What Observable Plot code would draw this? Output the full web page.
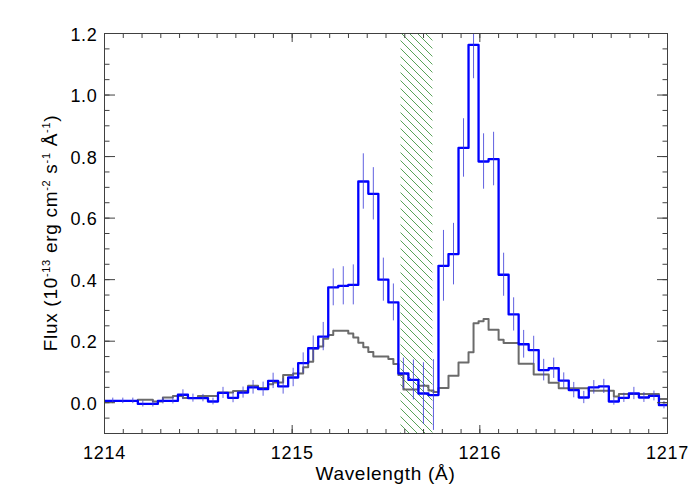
<!DOCTYPE html>
<html>
<head>
<meta charset="utf-8">
<script src="https://cdn.jsdelivr.net/npm/d3@7"></script>
<script src="https://cdn.jsdelivr.net/npm/@observablehq/plot@0.6"></script>
<style>
  body { margin: 0; background: #fff; }
</style>
</head>
<body>
<div id="chart"></div>
<script>
// ---- data ----
const binStart = 1213.964;   // left edge of first observed bin (Å)
const binWidth = 0.0534;     // observed bin width (Å)

// observed flux per bin (1e-13 erg cm^-2 s^-1 Å^-1)
const fluxObs = [
  0.006, 0.006, 0.006, 0.006, -0.004, -0.004, 0.006, 0.006, 0.026, 0.015,
  0.015, 0.004, 0.032, 0.016, 0.033, 0.050, 0.044, 0.071, 0.053, 0.082,
  0.129, 0.177, 0.215, 0.375, 0.380, 0.383, 0.719, 0.679, 0.400, 0.326,
  0.095, 0.074, 0.030, 0.025, 0.445, 0.483, 0.828, 1.163, 0.784, 0.792,
  0.416, 0.287, 0.190, 0.171, 0.106, 0.112, 0.072, 0.041, 0.017, 0.050,
  0.053, 0.004, 0.016, 0.030, 0.017, 0.022, -0.008
];
// 1-sigma error per bin
const fluxErr = [
  0.009, 0.009, 0.009, 0.009, 0.010, 0.010, 0.010, 0.010, 0.016, 0.013,
  0.012, 0.011, 0.018, 0.016, 0.018, 0.022, 0.023, 0.025, 0.025, 0.030,
  0.033, 0.040, 0.046, 0.060, 0.062, 0.065, 0.090, 0.085, 0.070, 0.060,
  0.050, 0.065, 0.100, 0.115, 0.115, 0.100, 0.095, 0.110, 0.090, 0.087,
  0.070, 0.054, 0.045, 0.045, 0.035, 0.033, 0.025, 0.025, 0.020, 0.022,
  0.023, 0.012, 0.015, 0.020, 0.016, 0.016, 0.012
];
// comparison (gray) spectrum on half-width bins
const fluxModel = [
  0.006, 0.006, 0.006, 0.006, 0.006, 0.006, 0.006, 0.006, 0.010, 0.010,
  0.010, 0.004, 0.004, 0.017, 0.017, 0.022, 0.022, 0.015, 0.015, 0.015,
  0.022, 0.022, 0.022, 0.022, 0.033, 0.033, 0.033, 0.038, 0.038, 0.038,
  0.055, 0.055, 0.048, 0.048, 0.060, 0.066, 0.066, 0.090, 0.090, 0.095,
  0.095, 0.115, 0.133, 0.176, 0.183, 0.208, 0.220, 0.234, 0.234, 0.234,
  0.225, 0.212, 0.195, 0.180, 0.165, 0.150, 0.150, 0.150, 0.142, 0.126,
  0.090, 0.043, 0.043, 0.043, 0.055, 0.055, 0.040, 0.035, 0.048, 0.048,
  0.088, 0.088, 0.131, 0.131, 0.164, 0.258, 0.265, 0.272, 0.237, 0.237,
  0.205, 0.194, 0.194, 0.194, 0.127, 0.127, 0.127, 0.092, 0.092, 0.092,
  0.065, 0.065, 0.047, 0.047, 0.047, 0.047, 0.047, 0.047, 0.039, 0.039,
  0.039, 0.039, 0.039, 0.020, 0.028, 0.028, 0.028, 0.028, 0.028, 0.028,
  0.028, 0.028, 0.012, 0.012
];
// masked (hatched) wavelength range
const maskedRange = [[1215.58, 1215.75]];

// axes
const xMajor = [1214, 1215, 1216, 1217];
const yMajor = [0.0, 0.2, 0.4, 0.6, 0.8, 1.0, 1.2];
const xDomain = [1214, 1217];
const yDomain = [-0.1, 1.2];
const xMinor = d3.range(0, 31).map(k => 1214 + k * 0.1);
const yMinor = d3.range(0, 27).map(k => -0.1 + k * 0.05);

// ---- derived tables ----
const obs = fluxObs.map((v, i) => ({
  x0: binStart + i * binWidth,
  xc: binStart + (i + 0.5) * binWidth,
  v, e: fluxErr[i]
}));
const obsStep = obs.map(d => ({x: d.x0, v: d.v}))
  .concat([{x: binStart + fluxObs.length * binWidth, v: fluxObs[fluxObs.length - 1]}]);
const half = binWidth / 2;
const modelStep = fluxModel.map((v, j) => ({x: binStart + j * half, v}))
  .concat([{x: binStart + fluxModel.length * half, v: fluxModel[fluxModel.length - 1]}]);

const W = 700, H = 500;
const mL = 104, mR = 33, mT = 33, mB = 67;
const axisColor = "#404040";
const tickFont = 18;

const plot = Plot.plot({
  width: W, height: H,
  marginLeft: mL, marginRight: mR, marginTop: mT, marginBottom: mB,
  x: {domain: xDomain},
  y: {domain: yDomain},
  style: {
    fontFamily: "'Liberation Sans', Arial, Helvetica, sans-serif",
    background: "#fff",
    color: "#000",
    letterSpacing: "0.7px"
  },
  marks: [
    Plot.rect(maskedRange, {x1: d => d[0], x2: d => d[1], fill: "url(#hatch)"}),
    Plot.line(modelStep, {x: "x", y: "v", curve: "step-after", stroke: "#6b6b6b", strokeWidth: 2, clip: true}),
    Plot.line(obsStep, {x: "x", y: "v", curve: "step-after", stroke: "#0000ff", strokeWidth: 2.3, clip: true}),
    Plot.ruleX(obs, {x: "xc", y1: d => d.v - d.e, y2: d => d.v + d.e, stroke: "#3a3ad8", strokeOpacity: 0.8, strokeWidth: 1, clip: true}),
    Plot.frame({stroke: axisColor, strokeWidth: 1}),
    // inward ticks, all four sides
    Plot.axisX(xMajor, {anchor: "bottom", tickSize: -8, tickFormat: () => "", label: null, stroke: axisColor}),
    Plot.axisX(xMinor, {anchor: "bottom", tickSize: -4, tickFormat: () => "", label: null, stroke: axisColor}),
    Plot.axisX(xMajor, {anchor: "top", tickSize: -8, tickFormat: () => "", label: null, stroke: axisColor}),
    Plot.axisX(xMinor, {anchor: "top", tickSize: -4, tickFormat: () => "", label: null, stroke: axisColor}),
    Plot.axisY(yMajor, {anchor: "left", tickSize: -11, tickFormat: () => "", label: null, stroke: axisColor}),
    Plot.axisY(yMinor, {anchor: "left", tickSize: -5.5, tickFormat: () => "", label: null, stroke: axisColor}),
    Plot.axisY(yMajor, {anchor: "right", tickSize: -11, tickFormat: () => "", label: null, stroke: axisColor}),
    Plot.axisY(yMinor, {anchor: "right", tickSize: -5.5, tickFormat: () => "", label: null, stroke: axisColor}),
    // tick labels
    Plot.axisX(xMajor, {anchor: "bottom", tickSize: 0, tickPadding: 13, tickFormat: d3.format("d"), label: null, fontSize: tickFont, fill: "#000"}),
    Plot.axisY(yMajor, {anchor: "left", tickSize: 0, tickPadding: 7, tickFormat: d3.format(".1f"), label: null, fontSize: tickFont, fill: "#000", dy: 1.5})
  ]
});

document.getElementById("chart").appendChild(plot);

const svg = d3.select(plot);
// hatch pattern for the masked region
const defs = svg.insert("defs", ":first-child");
const pat = defs.append("pattern")
  .attr("id", "hatch")
  .attr("patternUnits", "userSpaceOnUse")
  .attr("width", 8).attr("height", 8);
pat.append("path")
  .attr("d", "M-2,-2 L10,10 M-2,6 L2,10 M6,-2 L10,2")
  .attr("stroke", "#2e8b2e")
  .attr("stroke-width", 0.8)
  .attr("fill", "none");

// x-axis title
svg.append("text")
  .attr("x", mL + (W - mL - mR) / 2)
  .attr("y", 480)
  .attr("text-anchor", "middle")
  .style("font-size", "19px")
  .attr("fill", "#000")
  .text("Wavelength (Å)");

// y-axis title with superscripts
const yl = svg.append("text")
  .attr("transform", `translate(57,${mT + (H - mT - mB) / 2}) rotate(-90)`)
  .attr("text-anchor", "middle")
  .style("font-size", "19px")
  .attr("fill", "#000");
const parts = [
  ["Flux (10", false], ["-13", true], [" erg cm", false], ["-2", true],
  [" s", false], ["-1", true], [" Å", false], ["-1", true], [")", false]
];
let raised = false;
for (const [t, sup] of parts) {
  const ts = yl.append("tspan").text(t);
  if (sup) {
    ts.style("font-size", "11px").attr("dy", raised ? 0 : -7);
    raised = true;
  } else {
    if (raised) ts.attr("dy", 7);
    raised = false;
  }
}
</script>
</body>
</html>
